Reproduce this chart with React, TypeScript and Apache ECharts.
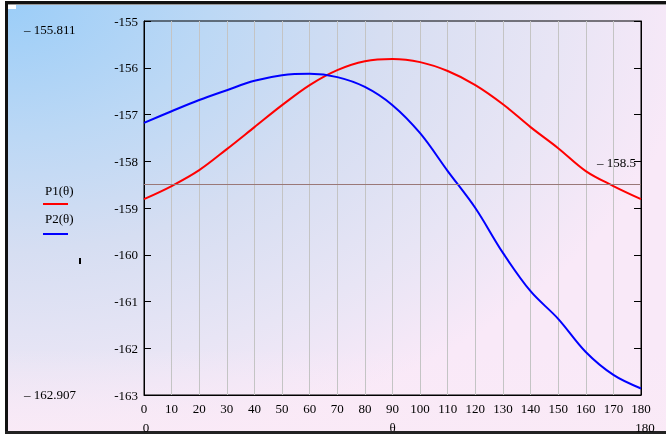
import React, { useEffect, useRef } from "react";
import * as echarts from "echarts";

const thetas = [0, 10, 20, 30, 40, 50, 60, 70, 80, 90, 100, 110, 120, 130, 140, 150, 160, 170, 180];
const p1Values = [-158.81, -158.53, -158.19, -157.74, -157.27, -156.8, -156.37, -156.05, -155.86, -155.811, -155.88, -156.07, -156.37, -156.78, -157.27, -157.72, -158.21, -158.53, -158.81];
const p2Values = [-157.18, -156.93, -156.69, -156.48, -156.28, -156.16, -156.13, -156.2, -156.41, -156.8, -157.4, -158.21, -159.0, -159.96, -160.78, -161.37, -162.08, -162.57, -162.86];
const markerValue = -158.5;
const yMin = -163;
const yMax = -155;

const FONT = "'Liberation Serif', 'Times New Roman', serif";
const FS = 13;

export default function App() {
  const ref = useRef<HTMLDivElement>(null);
  useEffect(() => {
    if (!ref.current) return;
    const chart = echarts.init(ref.current, undefined, { renderer: "svg" });
    const p1 = thetas.map((t, i) => [t, p1Values[i]]);
    const p2 = thetas.map((t, i) => [t, p2Values[i]]);
    const txt = (x: number, y: number, text: string, align: string = "left") => ({
      type: "text",
      x,
      y,
      z: 20,
      style: { text, font: FS + "px " + FONT, fill: "#000", textAlign: align, textVerticalAlign: "middle" },
    });
    chart.setOption({
      animation: false,
      grid: {
        left: 144,
        top: 21,
        right: 25,
        bottom: 41,
        outerBoundsMode: "none",
        containLabel: false,
        show: true,
        borderColor: "#000",
        borderWidth: 1,
        backgroundColor: "transparent",
      },
      graphic: [
        {
          type: "rect",
          z: -10,
          silent: true,
          shape: { x: 0, y: 0, width: 666, height: 436 },
          style: {
            fill: new echarts.graphic.RadialGradient(0, 0, 1.05, [
              { offset: 0, color: "#9acdf8" },
              { offset: 0.3, color: "#bcd8f5" },
              { offset: 0.55, color: "#d6def2" },
              { offset: 0.8, color: "#e8e5f5" },
              { offset: 1, color: "#f9e9f8" },
            ]),
          },
        },
        {
          type: "rect",
          z: -9,
          silent: true,
          shape: { x: 0, y: 0, width: 666, height: 436 },
          style: {
            fill: new echarts.graphic.LinearGradient(0, 0, 0, 1, [
              { offset: 0, color: "rgba(250,234,246,0)" },
              { offset: 0.8, color: "rgba(250,234,246,0)" },
              { offset: 1, color: "rgba(250,234,246,0.85)" },
            ]),
          },
        },
        { type: "rect", z: 10, shape: { x: 0, y: 0, width: 666, height: 1 }, style: { fill: "#fff" } },
        { type: "rect", z: 10, shape: { x: 5, y: 1, width: 661, height: 3 }, style: { fill: "#111" } },
        { type: "rect", z: 10, shape: { x: 5, y: 4, width: 661, height: 1 }, style: { fill: "#999" } },
        { type: "rect", z: 10, shape: { x: 0, y: 0, width: 5, height: 436 }, style: { fill: "#fff" } },
        { type: "rect", z: 10, shape: { x: 5, y: 1, width: 3, height: 434 }, style: { fill: "#111" } },
        { type: "rect", z: 10, shape: { x: 5, y: 431, width: 661, height: 3 }, style: { fill: "#222" } },
        { type: "rect", z: 10, shape: { x: 0, y: 434, width: 666, height: 2 }, style: { fill: "#fff" } },
        { type: "rect", z: 10, shape: { x: 8, y: 5, width: 8, height: 4 }, style: { fill: "#fff" } },
        txt(24, 29, "– 155.811"),
        txt(24, 394, "– 162.907"),
        txt(146, 427, "0", "center"),
        txt(645, 427, "180", "center"),
        txt(636, 162, "– 158.5", "right"),
        txt(45, 190, "P1(θ)"),
        { type: "line", z: 20, shape: { x1: 43, y1: 204, x2: 68, y2: 204 }, style: { stroke: "#ff0000", lineWidth: 2 } },
        txt(45, 218, "P2(θ)"),
        { type: "line", z: 20, shape: { x1: 43, y1: 234, x2: 68, y2: 234 }, style: { stroke: "#0000ff", lineWidth: 2 } },
        { type: "rect", z: 20, shape: { x: 79, y: 258, width: 2, height: 6 }, style: { fill: "#000" } },
      ],
      xAxis: {
        type: "value",
        min: 0,
        max: 180,
        interval: 10,
        name: "θ",
        nameLocation: "middle",
        nameGap: 26,
        nameTextStyle: { fontFamily: FONT, fontSize: FS, color: "#000" },
        axisLine: { show: true, lineStyle: { color: "#000", width: 1 } },
        axisTick: { show: false },
        axisLabel: { fontFamily: FONT, fontSize: FS, color: "#000", margin: 7 },
        splitLine: { show: true, lineStyle: { color: "#c4c4c4", width: 1 } },
      },
      yAxis: [
        {
          type: "value",
          min: yMin,
          max: yMax,
          interval: 1,
          position: "left",
          axisLine: { show: true, lineStyle: { color: "#000", width: 1 } },
          axisTick: { show: true, inside: true, length: 7, lineStyle: { color: "#000" } },
          axisLabel: { fontFamily: FONT, fontSize: FS, color: "#000", margin: 6 },
          splitLine: { show: false },
        },
        {
          type: "value",
          min: yMin,
          max: yMax,
          interval: 1,
          position: "right",
          axisLine: { show: true, lineStyle: { color: "#000", width: 1 } },
          axisTick: { show: true, inside: true, length: 7, lineStyle: { color: "#000" } },
          axisLabel: { show: false },
          splitLine: { show: false },
        },
      ],
      series: [
        {
          name: "P1(θ)",
          type: "line",
          data: p1,
          smooth: 0.35,
          showSymbol: false,
          lineStyle: { color: "#ff0000", width: 2 },
          markLine: {
            silent: true,
            symbol: "none",
            label: { show: false },
            lineStyle: { color: "#9a7878", width: 1, type: "solid" },
            data: [{ yAxis: markerValue }],
          },
        },
        {
          name: "P2(θ)",
          type: "line",
          data: p2,
          smooth: 0.35,
          showSymbol: false,
          lineStyle: { color: "#0000ff", width: 2 },
        },
      ],
    });
    return () => chart.dispose();
  }, []);
  return (
    <div
      ref={ref}
      style={{ position: "fixed", left: 0, top: 0, width: 666, height: 436 }}
    />
  );
}
